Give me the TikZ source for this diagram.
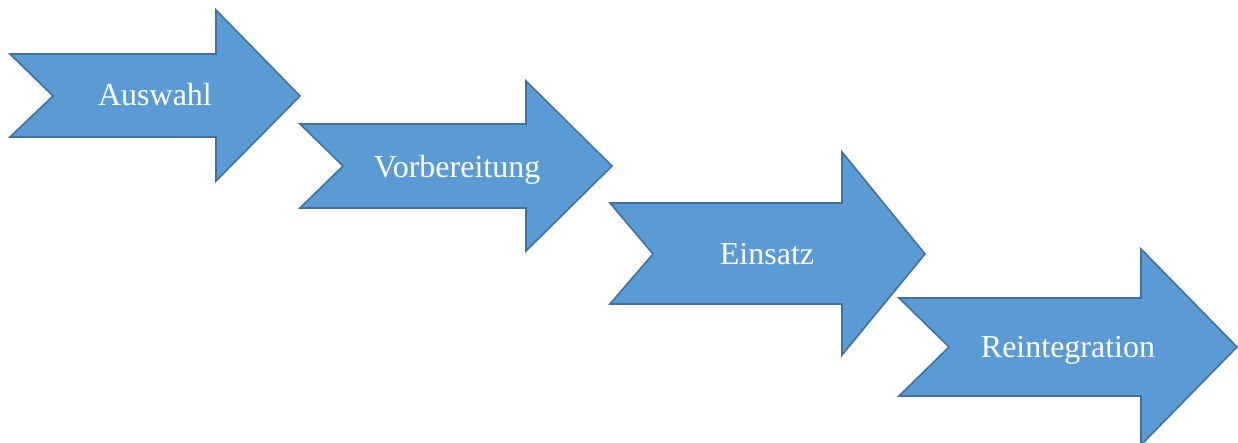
\documentclass[tikz,border=0pt]{standalone}
\usepackage{fontspec}
\setmainfont{Liberation Serif}
\definecolor{arrfill}{HTML}{5B9BD5}
\definecolor{arrline}{HTML}{41719C}
\tikzset{
  steparrow/.style={fill=arrfill, draw=arrline, line width=1.6pt, line join=miter},
  steplabel/.style={text=white, font=\fontsize{32}{37}\selectfont, inner sep=0pt, anchor=base}
}
\begin{document}
\begin{tikzpicture}[x=1pt,y=-1pt]
\useasboundingbox (0,0) rectangle (1238,443);
\begin{scope}
\clip (0,0) rectangle (1238,443);
% arrow 1
\draw[steparrow] (10,54) -- (216,54) -- (216,10) -- (300,96) -- (216,181) -- (216,137) -- (10,137) -- (53,96) -- cycle;
% arrow 2
\draw[steparrow] (300,124) -- (526,124) -- (526,81) -- (612,166) -- (526,251) -- (526,208) -- (300,208) -- (343,166) -- cycle;
% arrow 3
\draw[steparrow] (610,203) -- (842,203) -- (842,152) -- (925,254) -- (842,355) -- (842,304) -- (610,304) -- (653,254) -- cycle;
% arrow 4
\draw[steparrow] (899,298) -- (1141,298) -- (1141,249) -- (1237,347) -- (1141,445) -- (1141,396) -- (899,396) -- (949,347) -- cycle;
\end{scope}
\node[steplabel] (auswahl) at (155,106) {Auswahl};
\node[steplabel] (vorbereitung) at (457,178) {Vorbereitung};
\node[steplabel] (einsatz) at (767,265) {Einsatz};
\node[steplabel] (reintegration) at (1068,357) {Reintegration};
\end{tikzpicture}
\end{document}
